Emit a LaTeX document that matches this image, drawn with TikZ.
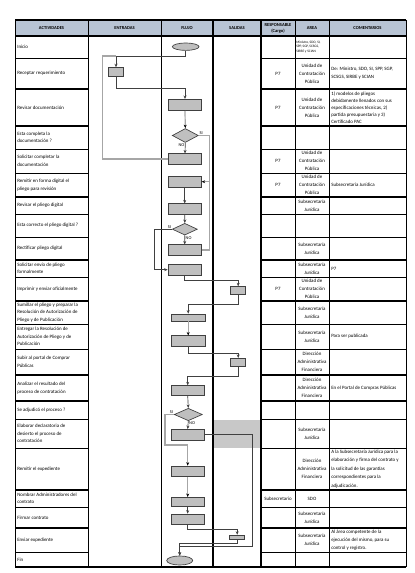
\documentclass[tikz,border=0pt]{standalone}
\usepackage{fontspec}
\setmainfont{Carlito}
\usetikzlibrary{shapes.geometric,arrows.meta}

\definecolor{relleno}{RGB}{191,191,191}
\definecolor{linea}{RGB}{64,64,64}
\definecolor{gris}{RGB}{166,166,166}
\definecolor{cabecera}{RGB}{184,196,212}
\definecolor{sombra}{RGB}{200,200,200}

\tikzset{
  caja/.style={draw=linea, fill=relleno, line width=0.5pt, inner sep=0pt, minimum width=25pt, minimum height=7.8pt},
  cajita/.style={caja, minimum width=11.4pt, minimum height=6.6pt},
  decision/.style={diamond, draw=linea, fill=relleno, line width=0.5pt, inner sep=0pt, minimum width=19.5pt, minimum height=10pt},
  terminal/.style={ellipse, draw=linea, fill=relleno, line width=0.5pt, inner sep=0pt, minimum width=20pt, minimum height=5.5pt},
  flecha/.style={draw=linea, line width=0.5pt, -{Stealth[length=2.6pt,width=2.2pt]}},
  retorno/.style={draw=gris, line width=0.9pt},
  retflecha/.style={retorno, -{Stealth[length=2.6pt,width=2.2pt,color=black]}},
  etiq/.style={font=\fontsize{3.3}{4}\selectfont, inner sep=0.5pt},
  actividad/.style={anchor=west, align=left, inner sep=0pt, font=\fontsize{3.7}{5.6}\selectfont},
  area/.style={align=center, inner sep=0pt, font=\fontsize{3.7}{6}\selectfont},
  comentario/.style={anchor=west, align=left, inner sep=0pt, font=\fontsize{3.7}{6}\selectfont},
  titulo/.style={align=center, inner sep=0pt, font=\fontsize{3.4}{4.4}\selectfont\bfseries},
}

\begin{document}
\begin{tikzpicture}[x=0.75pt, y=-0.75pt]
  \useasboundingbox (0,0) rectangle (414,573);
  \fill[white] (0,0) rectangle (414,573);

  % Header band and shaded cell
  \fill[cabecera] (15,20) rectangle (406,36);
  \fill[sombra] (213,420) rectangle (261,448);

  % Row lines (left and right groups)
  \foreach \y in {58,149,173,214,237,277,324,349,419,448,507,552} {
    \draw[line width=0.6pt] (15,\y) -- (88,\y);
    \draw[line width=0.6pt] (261,\y) -- (406,\y);
  }
  \foreach \y in {89,126,197,260,301,375,401,490,528} {
    \draw[line width=1.3pt] (15,\y) -- (88,\y);
    \draw[line width=1.3pt] (261,\y) -- (406,\y);
  }

  % Columns
  \foreach \x in {15,88,161,295,329,406} \draw[line width=0.6pt] (\x,20) -- (\x,567);
  \foreach \x in {213,261} \draw[line width=1.3pt] (\x,20) -- (\x,567);
  \draw[line width=1.3pt] (15,20) -- (406,20);
  \draw[line width=1.3pt] (15,36) -- (406,36);
  \draw[line width=0.9pt] (15,567) -- (406,567);

  % Header labels
  \node[titulo] (hact) at (51.5,28) {ACTIVIDADES};
  \node[titulo] (hent) at (124.5,28) {ENTRADAS};
  \node[titulo] (hflu) at (187,28) {FLUJO};
  \node[titulo] (hsal) at (237,28) {SALIDAS};
  \node[titulo] (hres) at (278,28) {RESPONSABLE\\(Cargo)};
  \node[titulo] (hare) at (312,28) {AREA};
  \node[titulo] (hcom) at (367.5,28) {COMENTARIOS};

  % Activities
  \foreach \ym/\txt [count=\i] in {47/Inicio, 73.5/Receptar requerimiento,
      107.5/Revisar documentación, 137.5/{Esta completa la\\documentación ?},
      161/{Solicitar completar la\\documentación}, 185/{Remitir en forma digital el\\pliego para revisión},
      205.5/Revisar el pliego digital, 225.5/Esta correcto el pliego digital ?,
      248.5/Rectificar pliego digital, 268.5/{Solicitar envío de pliego\\formalmente},
      289/Imprimir y enviar oficialmente,
      312.5/{Sumillar el pliego y preparar la\\Resolución de Autorización de\\Pliego y de Publicación},
      336.5/{Entregar la Resolución de\\Autorización de Pliego y de\\Publicación},
      362/{Subir al portal de Comprar\\Públicas}, 388/{Analizar el resultado del\\proceso de contratación},
      410/Se adjudicó el proceso ?,
      433.5/{Elaborar declaratoria de\\desierto el proceso de\\contratación},
      469/Remitir el expediente, 498.5/{Nombrar Administradores del\\contrato},
      517.5/Firmar contrato, 540/Enviar expediente, 559.5/Fin}
    \node[actividad] (act\i) at (17,\ym) {\txt};

  % Responsible
  \foreach \ym/\txt [count=\i] in {73.5/P7, 107.5/P7, 161/P7, 185/P7, 289/P7, 498.5/Subsecretario}
    \node[area] (res\i) at (278,\ym) {\txt};

  % Area
  \node[anchor=west, align=left, inner sep=0pt, font=\fontsize{2.6}{3.6}\selectfont] (are0) at (296,47)
    {Ministro, SDO, SI,\\SPP, SGP, SCSGS,\\SIRBE y SCIAN};
  \foreach \ym/\txt [count=\i] in {73.5/{Unidad de\\Contratación\\Pública}, 107.5/{Unidad de\\Contratación\\Pública},
      161/{Unidad de\\Contratación\\Pública}, 185/{Unidad de\\Contratación\\Pública},
      205.5/{Subsecretaría\\Jurídica}, 248.5/{Subsecretaría\\Jurídica}, 268.5/{Subsecretaría\\Jurídica},
      289/{Unidad de\\Contratación\\Pública}, 312.5/{Subsecretaría\\Jurídica}, 336.5/{Subsecretaría\\Jurídica},
      362/{Dirección\\Administrativa\\Financiera}, 388/{Dirección\\Administrativa\\Financiera},
      433.5/{Subsecretaría\\Jurídica}, 469/{Dirección\\Administrativa\\Financiera},
      498.5/SDO, 517.5/{Subsecretaría\\Jurídica}, 540/{Subsecretaría\\Jurídica}}
    \node[area] (are\i) at (312,\ym) {\txt};

  % Comments
  \node[comentario] (com1) at (331,73.5) {De: Ministro, SDO, SI, SPP, SGP,\\SCSGS, SIRBE y SCIAN};
  \node[comentario, font=\fontsize{3.7}{5.3}\selectfont] (com2) at (331,108) {1) modelos de pliegos\\debidamente llenados con sus\\especificaciones técnicas, 2)\\partida presupuestaria y 3)\\Certificado PAC};
  \node[comentario] (com3) at (331,185) {Subsecretaría Jurídica};
  \node[comentario] (com4) at (331,268.5) {P7};
  \node[comentario] (com5) at (331,336.5) {Para ser publicada};
  \node[comentario] (com6) at (331,388) {En el Portal de Compras Públicas};
  \node[comentario, font=\fontsize{3.7}{6.4}\selectfont] (com7) at (331,469) {A la Subsecretaría Jurídica para la\\elaboración y firma del contrato y\\la solicitud de las garantías\\correspondientes para la\\adjudicación.};
  \node[comentario] (com8) at (331,540) {Al área competente de la\\ejecución del mismo, para su\\control y registro.};

  % Flow shapes
  \node[terminal] (inicio) at (185.7,46.7) {};
  \node[cajita] (recep) at (116,72) {};
  \node[caja, minimum height=8.5pt] (revdoc) at (185,105) {};
  \node[decision, minimum height=10.5pt] (dcomp) at (185.3,135.5) {};
  \node[caja] (solcomp) at (185,159) {};
  \node[caja] (remit) at (184.7,181.7) {};
  \node[caja] (revpl) at (184.7,209) {};
  \node[decision, minimum width=18.8pt, minimum height=8.8pt] (dcorr) at (184.8,229.2) {};
  \node[caja] (rect) at (184.7,250) {};
  \node[caja] (solenv) at (184.7,269.7) {};
  \node[cajita, minimum height=5.8pt] (impr) at (238.2,290.5) {};
  \node[caja, minimum height=5.3pt] (sum) at (188.2,317.5) {};
  \node[caja] (entr) at (188.2,341) {};
  \node[cajita, minimum height=6.3pt] (subir) at (238.2,362.5) {};
  \node[caja, minimum height=7pt] (anal) at (187.7,390.3) {};
  \node[decision, minimum width=21pt, minimum height=9.3pt] (dadj) at (188.3,414.5) {};
  \node[caja, minimum height=8pt] (elab) at (187.7,434.7) {};
  \node[caja, minimum height=8pt] (remexp) at (187.7,471.3) {};
  \node[caja, minimum height=7pt] (nomb) at (187.7,502) {};
  \node[caja, minimum height=7.5pt] (firm) at (187.7,519) {};
  \node[cajita, minimum height=3.2pt] (envi) at (237.2,537.2) {};
  \node[terminal, minimum height=6.8pt, minimum width=19.5pt] (fin) at (179.7,560.5) {};

  % Turning points of the loops
  \coordinate (ret1) at (102.7,56);
  \coordinate (ret2) at (209.5,181.7);
  \coordinate (ret3) at (165,445);
  \coordinate (ret4) at (252.3,546.5);

  % Connectors
  \draw[retorno] (solcomp.west) -| (ret1) -- (recep.north |- ret1);
  \draw[flecha] (inicio.south) |- (ret1 -| recep.north) -- (recep.north);
  \draw[flecha] (recep.south) -- ++(0,11.6) -| (revdoc.north);
  \draw[retflecha] (revdoc.south) -- (dcomp.north);
  \draw[flecha] (dcomp.south) -- (solcomp.north);
  \draw[retflecha] (dcomp.east) -| (ret2) -- (remit.east);
  \draw[retorno] (rect.east) -| (ret2);
  \draw[flecha] (remit.south) -- (revpl.north);
  \draw[flecha] (revpl.south) -- (dcorr.north);
  \draw[flecha] (dcorr.south) -- (rect.north);
  \draw[flecha] (dcorr.west) -- ++(-18,0) |- (solenv.west);
  \draw[flecha] (solenv.south) -- ++(0,5.3) -| (impr.north);
  \draw[flecha] (impr.south) -- ++(0,10) -| (sum.north);
  \draw[retflecha] (sum.south) -- (entr.north);
  \draw[flecha] (entr.south) -- ++(0,6.3) -| (subir.north);
  \draw[flecha] (subir.south) -- ++(0,9.5) -| (anal.north);
  \draw[flecha] (anal.south) -- (dadj.north);
  \draw[flecha] (dadj.south) -- (elab.north);
  \draw[retflecha] (dadj.west) -| (ret3) -| (remexp.north);
  \draw[flecha] (elab.east) -| (ret4) -| (fin.north);
  \draw[retflecha] (remexp.south) -- (nomb.north);
  \draw[flecha] (nomb.south) -- (firm.north);
  \draw[flecha] (firm.south) -- ++(0,5) -| (envi.north);
  \draw[flecha] (envi.south) -- ++(0,4) -| (fin.north);

  % SI / NO labels
  \node[etiq, anchor=south west] (si1) at (dcomp.east) {SI};
  \node[etiq, anchor=north east] (no1) at (dcomp.south) {NO};
  \node[etiq, anchor=south east] (si2) at (dcorr.west) {SI};
  \node[etiq, anchor=north west] (no2) at (dcorr.south) {NO};
  \node[etiq, anchor=south east] (si3) at (dadj.west) {SI};
  \node[etiq, anchor=north west] (no3) at (dadj.south) {NO};
\end{tikzpicture}
\end{document}
